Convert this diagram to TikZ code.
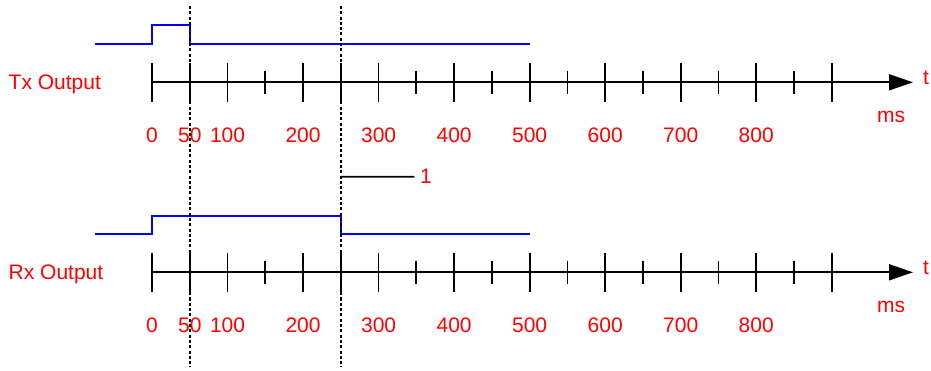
\documentclass[tikz,border=0pt]{standalone}
\usepackage{fontspec}
\setmainfont{Liberation Sans}
\usetikzlibrary{arrows.meta, positioning, calc}
\tikzset{
  timeaxis/.style={line width=1.8pt, -{Triangle[length=24pt, width=16pt]}},
  tallmark/.style={line width=1.8pt},
  shortmark/.style={line width=1.8pt},
  signal/.style={line width=1.9pt, blue},
  cursor/.style={line width=1.6pt, dash pattern=on 3pt off 2.3pt},
  redlbl/.style={text=red, font=\fontsize{21}{25}\selectfont, inner sep=0pt},
}

\begin{document}
\begin{tikzpicture}[x=1pt, y=-1pt]
\useasboundingbox (0,0) rectangle (931,371);

% two time axes: Tx at top, Rx below
\foreach \name/\ay/\txt in {tx/82.3/Tx Output, rx/272.3/Rx Output} {
  \coordinate (\name-start) at (152,\ay);
  \coordinate (\name-end) at (913,\ay);
  \draw[timeaxis] (\name-start) -- (\name-end);
  \node[redlbl, anchor=base west] (\name-label) at (8.5,\ay+7) {\txt};
  \node[redlbl, anchor=base] (\name-t) at (926,\ay+2.7) {t};
  \node[redlbl, anchor=base] (\name-ms) at (891,\ay+40.4) {ms};
  \foreach \t in {0,50,100,200,250,300,400,500,600,700,800,900}
    \draw[tallmark] ({152+0.7553*\t},\ay-19.5) -- ({152+0.7553*\t},\ay+19.5);
  \foreach \t in {150,350,450,550,650,750,850}
    \draw[shortmark] ({152+0.7553*\t},\ay-11.7) -- ({152+0.7553*\t},\ay+11.7);
  \foreach \t in {0,50,100,200,300,400,500,600,700,800}
    \node[redlbl, anchor=base] (\name-n\t) at ({152+0.7553*\t},\ay+60) {\t};
}

% Tx signal
\draw[signal] (95,44.3) -- (152,44.3) -- (152,25) -- (189.8,25) -- (189.8,44.3) -- (529.7,44.3);
% Rx signal
\draw[signal] (95,234) -- (152,234) -- (152,216) -- (340.8,216) -- (340.8,234) -- (529.7,234);

% dashed cursors
\coordinate (c50-top) at (189.8,6);
\coordinate (c50-bot) at (189.8,367);
\coordinate (c250-top) at (340.8,6);
\coordinate (c250-bot) at (340.8,367);
\draw[cursor] (c50-top) -- (c50-bot);
\draw[cursor] (c250-top) -- (c250-bot);

% delay callout
\node[redlbl, anchor=base] (delay) at (426,184) {1};
\coordinate (delay-from) at (340.8,176.7);
\draw[line width=1.6pt] (delay-from) -- ($(delay.west)+(-5.5,0)$ |- delay-from);
\end{tikzpicture}
\end{document}
